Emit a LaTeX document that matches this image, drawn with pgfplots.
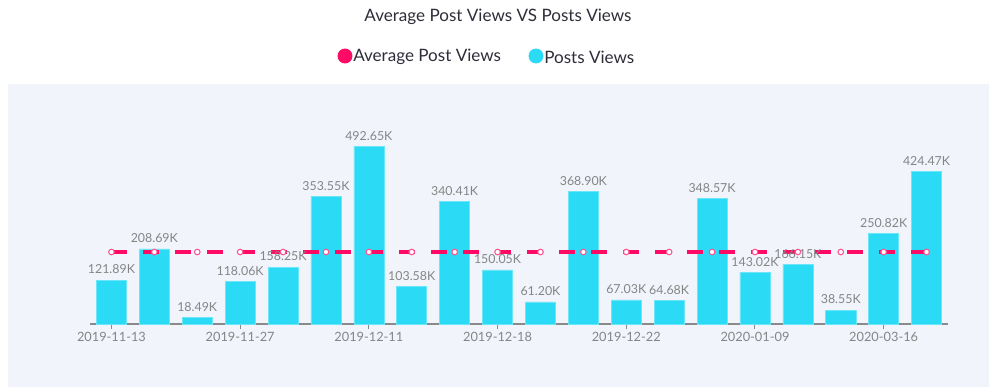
\documentclass[border=0pt]{standalone}
\usepackage{pgfplots}
\pgfplotsset{compat=1.18}
\usepackage{pgfplotstable}
\usepackage{fontspec}
\setmainfont{Lato}
\definecolor{pinkc}{HTML}{FF0A64}
\definecolor{cyanc}{HTML}{2BDAF5}
\definecolor{bgc}{HTML}{F1F4FB}
\definecolor{titlec}{HTML}{2E2E3A}
\definecolor{lblc}{HTML}{858585}
\definecolor{axc}{HTML}{8A8A8A}
\pgfplotstableread{
x y
0 121.89
1 208.69
2 18.49
3 118.06
4 158.25
5 353.55
6 492.65
7 103.58
8 340.41
9 150.05
10 61.20
11 368.90
12 67.03
13 64.68
14 348.57
15 143.02
16 166.15
17 38.55
18 250.82
19 424.47
}\posts
\begin{document}
\begin{tikzpicture}[x=0.75pt,y=0.75pt]
\path[use as bounding box] (0,0) rectangle (994,387);
\fill[bgc] (8,0) rectangle (989,303);
\node[text=titlec,font=\fontsize{12.8pt}{14pt}\selectfont] at (498,370) {Average Post Views VS Posts Views};
\fill[pinkc] (345,331) circle (5.6pt);
\node[anchor=west,inner sep=0pt,text=titlec,font=\fontsize{12.8pt}{14pt}\selectfont] at (353,330) {Average Post Views};
\fill[cyanc] (536,331) circle (5.6pt);
\node[anchor=west,inner sep=0pt,text=titlec,font=\fontsize{12.8pt}{14pt}\selectfont] at (544,330) {Posts Views};
\begin{axis}[
  at={(67.5pt,47.25pt)}, anchor=south west,
  scale only axis, width=643.5pt, height=135pt,
  xmin=-0.5, xmax=19.5, ymin=0, ymax=500,
  axis y line=none,
  axis x line*=bottom,
  x axis line style={axc, line width=0.8pt},
  xtick={0,3,6,9,12,15,18},
  xticklabels={2019-11-13,2019-11-27,2019-12-11,2019-12-18,2019-12-22,2020-01-09,2020-03-16},
  xtick style={axc, line width=0.8pt},
  tick align=outside, major tick length=3.75pt,
  xticklabel style={text=lblc, font=\fontsize{9.6pt}{11pt}\selectfont, yshift=1pt},
  /pgf/number format/assume math mode=true,
  clip=false,
]
\addplot[ybar, bar width=22.5pt, fill=cyanc, draw=cyanc!70!white, line width=0.4pt,
  nodes near coords={\pgfmathprintnumber[fixed,fixed zerofill,precision=2]{\pgfplotspointmeta}K},
  every node near coord/.append style={text=lblc, font=\fontsize{9.3pt}{11pt}\selectfont, yshift=1pt}]
  table[x=x,y=y]{\posts};
\addplot[pinkc, line width=3pt, dash pattern=on 12pt off 12pt,
  mark=*, mark size=2.1pt, mark options={solid, fill=white, draw=pinkc!70!white, line width=0.8pt}]
  coordinates {(0,199.95)(1,199.95)(2,199.95)(3,199.95)(4,199.95)(5,199.95)(6,199.95)(7,199.95)(8,199.95)(9,199.95)(10,199.95)(11,199.95)(12,199.95)(13,199.95)(14,199.95)(15,199.95)(16,199.95)(17,199.95)(18,199.95)(19,199.95)};
\end{axis}
\end{tikzpicture}
\end{document}
